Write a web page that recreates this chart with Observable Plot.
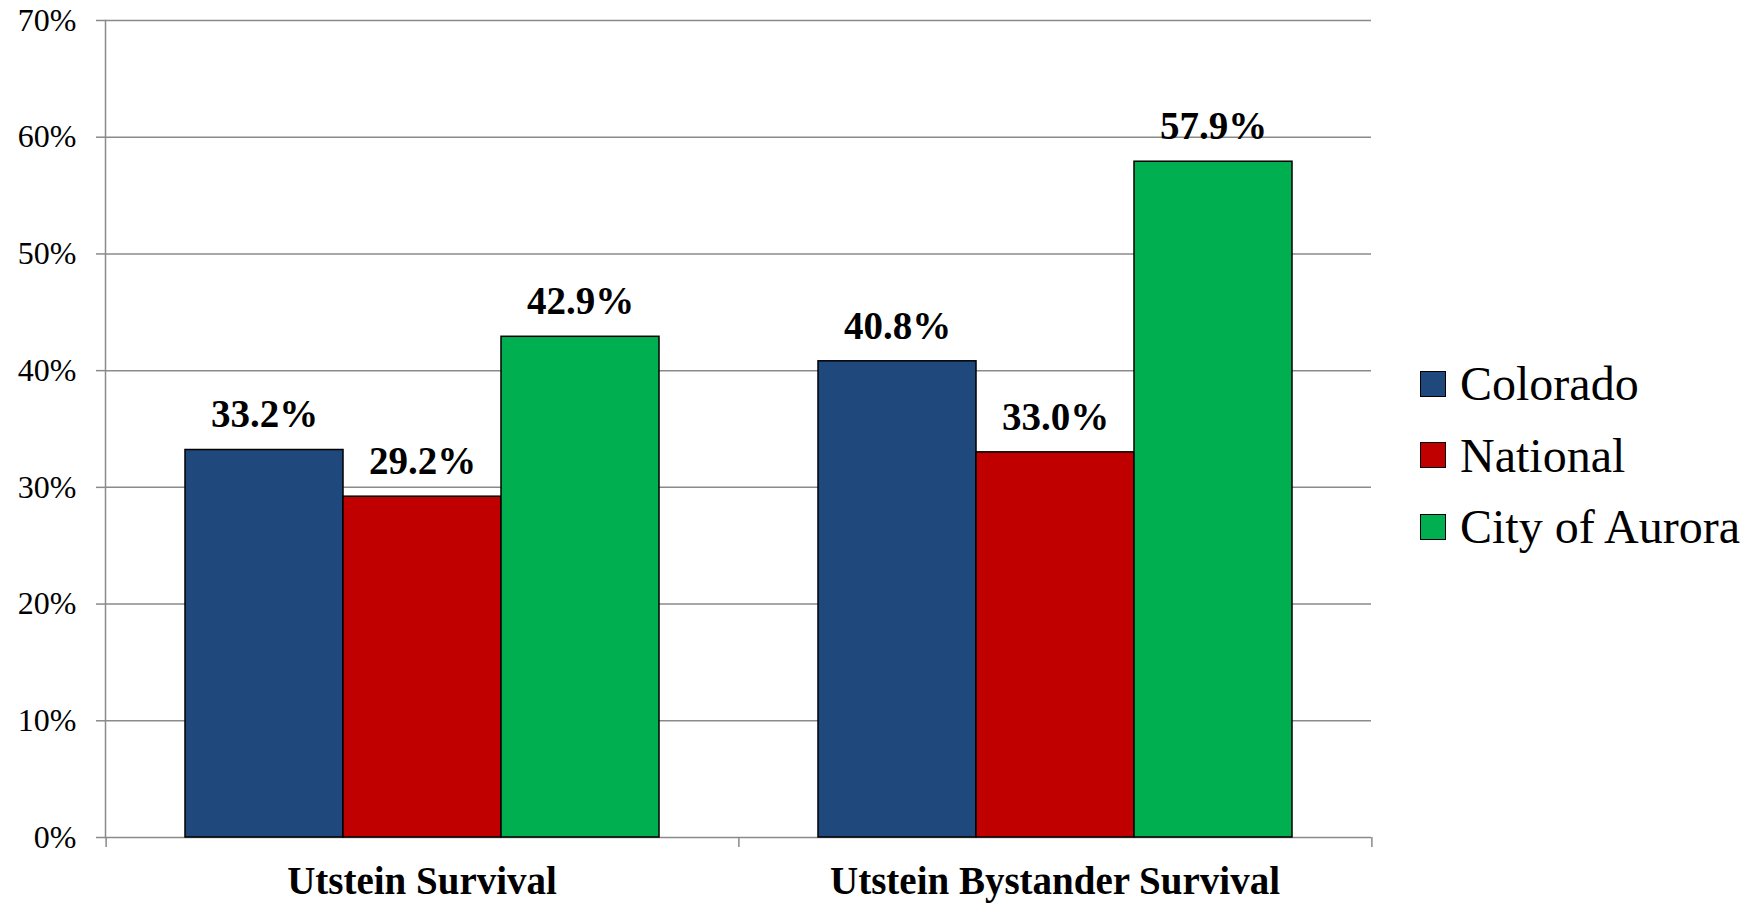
<!DOCTYPE html>
<html><head><meta charset="utf-8">
<script src="https://cdn.jsdelivr.net/npm/d3@7"></script>
<script src="https://cdn.jsdelivr.net/npm/@observablehq/plot@0.6"></script>
<style>
html,body{margin:0;padding:0;background:#fff;}
#wrap{position:relative;width:1759px;height:904px;overflow:hidden;}
#legend{position:absolute;left:1420px;top:348px;font-family:"Liberation Serif",serif;font-size:48px;color:#000;}
.row{display:flex;align-items:center;height:71.5px;line-height:71.5px;white-space:nowrap;}
.sw{width:26px;height:26px;border:1.5px solid #000;box-sizing:border-box;margin-right:14px;flex:none;}
svg text{font-family:"Liberation Serif",serif;}
</style></head><body><div id="wrap"></div>
<script>
const categories = ["Utstein Survival", "Utstein Bystander Survival"];
const series = ["Colorado", "National", "City of Aurora"];
const colorado = [33.2, 40.8];
const national = [29.2, 33.0];
const aurora = [42.9, 57.9];
const colors = ["#1F497D", "#C00000", "#00B050"];
const yTicks = [0, 10, 20, 30, 40, 50, 60, 70];
const yTickLabels = ["0%", "10%", "20%", "30%", "40%", "50%", "60%", "70%"];

const valuesBySeries = [colorado, national, aurora];
const data = [];
categories.forEach((c, ci) => series.forEach((s, si) => data.push({category: c, series: s, value: valuesBySeries[si][ci]})));

const W = 1759, H = 904, mL = 104, mR = 388, mT = 20, mB = 67;
const bw = (W - mL - mR) / categories.length / (series.length + 1);
const gridColor = "#8a8a8a";
const serif = "'Liberation Serif', serif";

const chart = Plot.plot({
  width: W, height: H,
  marginLeft: mL, marginRight: mR, marginTop: mT, marginBottom: mB,
  style: {fontFamily: serif, background: "#fff", color: "#000"},
  fx: {domain: categories, padding: 0, label: null},
  x: {domain: series, paddingInner: 0, paddingOuter: 0.5, axis: null},
  y: {domain: [0, 70], label: null},
  color: {domain: series, range: colors},
  marks: [
    Plot.gridY({ticks: yTicks, stroke: gridColor, strokeOpacity: 1, strokeWidth: 1.5}),
    Plot.barY(data, {fx: "category", x: "series", y: "value", fill: "series", stroke: "#000", strokeWidth: 1.5}),
    Plot.frame({anchor: "left", facetAnchor: "left", stroke: gridColor, strokeWidth: 1.5}),
    Plot.ruleX(categories.slice(0, 1), {fx: d => d, x: () => series[0], y1: 0, y2: 0, dx: -bw, insetTop: 0, insetBottom: -10, stroke: gridColor, strokeWidth: 1.5}),
    Plot.ruleX(categories, {fx: d => d, x: () => series[series.length - 1], y1: 0, y2: 0, dx: bw, insetTop: 0, insetBottom: -10, stroke: gridColor, strokeWidth: 1.5}),
    Plot.text(data, {fx: "category", x: "series", y: "value", text: d => d3.format(".1f")(d.value) + "%", dy: -35, fontSize: 39, fontWeight: "bold", fontFamily: serif, fill: "#000"}),
    Plot.axisY({ticks: yTicks, tickFormat: d => yTickLabels[yTicks.indexOf(d)], tickSize: 9, tickPadding: 20, stroke: gridColor, strokeWidth: 1.5, strokeOpacity: 1, fill: "#000", fontSize: 32, fontFamily: serif, label: null}),
    Plot.axisFx({anchor: "bottom", tickSize: 0, tickPadding: 29, fontSize: 39, fontWeight: "bold", fontFamily: serif, fill: "#000", label: null})
  ]
});

const wrap = document.getElementById("wrap");
wrap.appendChild(chart);
const legend = document.createElement("div");
legend.id = "legend";
series.forEach((s, i) => {
  const row = document.createElement("div");
  row.className = "row";
  const sw = document.createElement("div");
  sw.className = "sw";
  sw.style.background = colors[i];
  const t = document.createElement("span");
  t.textContent = s;
  row.appendChild(sw);
  row.appendChild(t);
  legend.appendChild(row);
});
wrap.appendChild(legend);
</script></body></html>
